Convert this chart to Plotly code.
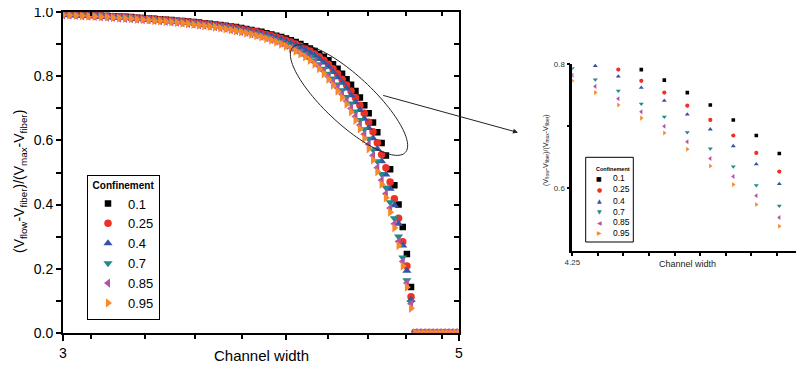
import numpy as np
import plotly.graph_objects as go

# ---------------- data ----------------
X = [3.000, 3.025, 3.050, 3.075, 3.100, 3.125, 3.150, 3.175, 3.200, 3.225,
     3.250, 3.275, 3.300, 3.325, 3.350, 3.375, 3.400, 3.425, 3.450, 3.475,
     3.500, 3.525, 3.550, 3.575, 3.600, 3.625, 3.650, 3.675, 3.700, 3.725,
     3.750, 3.775, 3.800, 3.825, 3.850, 3.875, 3.900, 3.925, 3.950, 3.975,
     4.000, 4.025, 4.050, 4.075, 4.100, 4.125, 4.150, 4.175, 4.200, 4.225,
     4.250, 4.275, 4.300, 4.325, 4.350, 4.375, 4.400, 4.425, 4.450, 4.475,
     4.500, 4.525, 4.550, 4.575, 4.600, 4.625, 4.650, 4.675, 4.700, 4.725,
     4.750, 4.775, 4.800, 4.825, 4.850, 4.875, 4.900, 4.925, 4.950, 4.975,
     5.000]

ZEROS = [0.0] * 12

conf_01 = [.996, .995, .994, .993, .992, .991, .990, .989, .988, .987,
           .986, .985, .983, .982, .981, .980, .978, .977, .976, .974,
           .973, .971, .970, .968, .966, .964, .962, .960, .958, .956,
           .954, .951, .948, .945, .942, .939, .935, .931, .927, .923,
           .918, .913, .907, .901, .894, .887, .879, .870, .861, .850,
           .838, .824, .808, .791, .774, .754, .734, .710, .685, .656,
           .626, .592, .553, .510, .460, .400, .330, .246, .143] + ZEROS

conf_025 = [.995, .994, .993, .992, .991, .990, .989, .988, .987, .986,
            .985, .983, .982, .981, .980, .978, .977, .976, .974, .973,
            .971, .970, .968, .966, .964, .962, .960, .958, .956, .954,
            .951, .948, .945, .942, .939, .935, .931, .927, .923, .918,
            .913, .907, .901, .894, .887, .879, .870, .861, .850, .838,
            .824, .808, .791, .773, .754, .733, .710, .685, .657, .627,
            .593, .556, .515, .470, .418, .357, .284, .208, .112] + ZEROS

conf_04 = [.994, .993, .992, .991, .990, .989, .988, .987, .986, .985,
           .984, .982, .981, .980, .979, .977, .976, .975, .973, .972,
           .970, .969, .967, .965, .963, .961, .959, .957, .955, .952,
           .949, .946, .943, .940, .937, .933, .929, .925, .920, .915,
           .909, .903, .897, .890, .882, .874, .865, .854, .843, .830,
           .814, .797, .780, .762, .741, .719, .695, .668, .639, .607,
           .573, .535, .494, .449, .398, .340, .272, .193, .102] + ZEROS

conf_07 = [.993, .992, .991, .990, .989, .988, .987, .986, .985, .983,
           .982, .981, .980, .978, .977, .976, .974, .973, .971, .970,
           .968, .966, .964, .962, .960, .958, .956, .954, .951, .948,
           .945, .942, .939, .935, .931, .927, .923, .918, .913, .907,
           .901, .894, .887, .879, .870, .861, .850, .838, .824, .808,
           .793, .775, .757, .736, .715, .690, .664, .635, .605, .572,
           .535, .495, .453, .407, .357, .300, .235, .164, .095] + ZEROS

conf_085 = [.992, .991, .990, .989, .988, .987, .986, .985, .984, .982,
            .981, .980, .979, .977, .976, .975, .973, .972, .970, .969,
            .967, .965, .963, .961, .959, .957, .955, .952, .950, .946,
            .943, .940, .937, .933, .929, .925, .920, .915, .910, .904,
            .897, .890, .883, .874, .865, .855, .844, .831, .816, .799,
            .782, .764, .744, .723, .700, .675, .648, .619, .588, .553,
            .515, .476, .434, .389, .340, .285, .222, .155, .090] + ZEROS

conf_095 = [.992, .991, .990, .989, .988, .987, .986, .985, .983, .982,
            .981, .980, .978, .977, .976, .974, .973, .971, .970, .968,
            .966, .964, .962, .960, .958, .956, .954, .951, .948, .945,
            .942, .939, .935, .931, .927, .923, .918, .913, .907, .901,
            .894, .887, .879, .870, .861, .850, .838, .824, .808, .791,
            .773, .754, .734, .713, .689, .663, .636, .606, .574, .539,
            .502, .463, .421, .376, .327, .272, .208, .142, .076] + ZEROS

NAMES = ["0.1", "0.25", "0.4", "0.7", "0.85", "0.95"]
SERIES = [conf_01, conf_025, conf_04, conf_07, conf_085, conf_095]

# main axis tick values / labels
X_LABELED = [3, 5]
X_LABEL_TEXT = ["3", "5"]
X_MID = [4]
X_MINOR = [3 + 1 / 9, 3 + 3 / 9, 3 + 5 / 9, 3 + 7 / 9,
           3 + 11 / 9, 3 + 13 / 9, 3 + 15 / 9, 3 + 17 / 9]
Y_MAJOR = [0.0, 0.2, 0.4, 0.6, 0.8, 1.0]
Y_MAJOR_TEXT = ["0.0", "0.2", "0.4", "0.6", "0.8", "1.0"]
Y_MINOR = [0.1, 0.3, 0.5, 0.7, 0.9]

# inset tick values / labels
IN_XLAB = [4.25, 4.5]
IN_XLAB_TEXT = ["4.25", "4.5"]
IN_XMINOR = [4.25 + k * 0.25 / 9 for k in range(1, 9)]
IN_YLAB = [0.6, 0.8]
IN_YLAB_TEXT = ["0.6", "0.8"]
IN_YMINOR = [0.7]

# ---------------- styles ----------------
COLORS = ["#000000", "#ee3124", "#3953a4", "#1f8a8a", "#b452a8", "#f7892b"]
SYMBOLS = ["square", "circle", "triangle-up", "triangle-down",
           "triangle-left", "triangle-right"]
MAIN_SIZE = [6.5, 7.5, 8, 8, 8, 8]
INSET_SIZE = [3.6, 4.2, 4.4, 4.4, 4.4, 4.4]

# the page puts the figure 8 px in from the window's top-left corner
OFF = 8
WIN_W, WIN_H = 804, 366
W, H = WIN_W - OFF, WIN_H - OFF


def px(xp):
    return (xp - OFF) / W


def py(yp):
    return 1 - (yp - OFF) / H


fig = go.Figure()

for name, ys, c, s, ms in zip(NAMES, SERIES, COLORS, SYMBOLS, MAIN_SIZE):
    fig.add_trace(go.Scatter(
        x=X, y=ys, mode="markers", name=name,
        marker=dict(symbol=s, size=ms, color=c, line=dict(width=0)),
        xaxis="x", yaxis="y", showlegend=True, cliponaxis=True))

for name, ys, c, s, ms in zip(NAMES, SERIES, COLORS, SYMBOLS, INSET_SIZE):
    fig.add_trace(go.Scatter(
        x=X, y=ys, mode="markers", name=name,
        marker=dict(symbol=s, size=ms, color=c, line=dict(width=0)),
        xaxis="x2", yaxis="y2", showlegend=False, cliponaxis=True))

# helper (empty) traces for extra tick sets (top / right inner ticks, long tick at 4)
fig.add_trace(go.Scatter(x=[], y=[], xaxis="x3", yaxis="y3",
                         showlegend=False, hoverinfo="skip"))
fig.add_trace(go.Scatter(x=[], y=[], xaxis="x4", yaxis="y",
                         showlegend=False, hoverinfo="skip"))

main_xdom = [px(63), px(459)]
main_ydom = [py(332.7), py(12.3)]
xr = [np.log10(3), np.log10(5)]

common = dict(showgrid=False, zeroline=False, automargin=False,
              ticklabeloverflow="allow")

fig.update_layout(
    width=W, height=H,
    margin=dict(l=0, r=0, t=0, b=0, autoexpand=False),
    paper_bgcolor="white", plot_bgcolor="white",
    font=dict(family="Liberation Sans, Arial, sans-serif", color="black"),
    xaxis=dict(type="log", range=xr, domain=main_xdom, anchor="y",
               showline=True, linewidth=2, linecolor="black", mirror=True,
               ticks="outside", ticklen=6, tickwidth=1.5, tickcolor="black",
               tickmode="array", tickvals=X_LABELED, ticktext=X_LABEL_TEXT,
               minor=dict(tickmode="array", tickvals=X_MINOR, ticks="outside",
                          ticklen=4, tickwidth=1.5, tickcolor="black"),
               tickfont=dict(size=14), **common),
    xaxis4=dict(type="log", range=xr, overlaying="x", side="bottom", anchor="y",
                showline=False, ticks="outside", ticklen=6, tickwidth=1.5,
                tickcolor="black", tickmode="array", tickvals=X_MID,
                showticklabels=False, **common),
    yaxis=dict(range=[0, 1], domain=main_ydom, anchor="x",
               showline=True, linewidth=2, linecolor="black", mirror=True,
               ticks="outside", ticklen=5, tickwidth=1.5, tickcolor="black",
               tickmode="array", tickvals=Y_MAJOR, ticktext=Y_MAJOR_TEXT,
               minor=dict(tickmode="array", tickvals=Y_MINOR, ticks="outside",
                          ticklen=5, tickwidth=1.5, tickcolor="black"),
               tickfont=dict(size=14), **common),
    xaxis3=dict(type="log", range=xr, overlaying="x", side="top", anchor="y",
                showline=False, ticks="inside", ticklen=6, tickwidth=1.5,
                tickcolor="black", tickmode="array", tickvals=[3, 4, 5],
                showticklabels=False,
                minor=dict(tickmode="array", tickvals=X_MINOR, ticks="inside",
                           ticklen=4, tickwidth=1.5, tickcolor="black"),
                **common),
    yaxis3=dict(range=[0, 1], overlaying="y", side="right", anchor="x",
                showline=False, ticks="inside", ticklen=5, tickwidth=1.5,
                tickcolor="black", tickmode="array", tickvals=Y_MAJOR,
                minor=dict(tickmode="array", tickvals=Y_MINOR, ticks="inside",
                           ticklen=5, tickwidth=1.5, tickcolor="black"),
                showticklabels=False, **common),
    xaxis2=dict(domain=[px(572.3), 1.0],
                range=[4.25, 4.25 + (WIN_W - 572.3) / 920], anchor="y2",
                showline=True, linewidth=2, linecolor="black", mirror=False,
                ticks="outside", ticklen=3, tickwidth=1.5, tickcolor="black",
                tickmode="array", tickvals=IN_XLAB, ticktext=IN_XLAB_TEXT,
                minor=dict(tickmode="array", tickvals=IN_XMINOR, ticks="outside",
                           ticklen=3, tickwidth=1.5, tickcolor="black"),
                tickfont=dict(size=8, color="#333"), **common),
    yaxis2=dict(domain=[py(250.5), py(64)], range=[0.5, 0.8], anchor="x2",
                showline=True, linewidth=2.5, linecolor="black", mirror=False,
                ticks="outside", ticklen=3, tickwidth=1.5, tickcolor="black",
                tickmode="array", tickvals=IN_YLAB, ticktext=IN_YLAB_TEXT,
                minor=dict(tickmode="array", tickvals=IN_YMINOR, ticks="outside",
                           ticklen=3, tickwidth=1.5, tickcolor="black"),
                tickfont=dict(size=8, color="#333"), **common),
    legend=dict(x=px(87), y=py(174.5), xanchor="left", yanchor="top",
                bgcolor="white", bordercolor="black", borderwidth=1,
                font=dict(size=13),
                title=dict(text="<b>Confinement</b>", font=dict(size=10),
                           side="top center"),
                tracegroupgap=0, itemsizing="trace"),
)

ytitle = "(V<sub>flow</sub>-V<sub>fiber</sub>)/(V<sub>max</sub>-V<sub>fiber</sub>)"

ann = [
    dict(text="Channel width", x=px(261), y=py(355), xref="paper", yref="paper",
         showarrow=False, font=dict(size=15), xanchor="center", yanchor="middle"),
    dict(text=ytitle, x=px(20), y=py(182), xref="paper", yref="paper",
         showarrow=False, textangle=-90, font=dict(size=14),
         xanchor="center", yanchor="middle"),
    dict(text="Channel width", x=px(687), y=py(264), xref="paper", yref="paper",
         showarrow=False, font=dict(size=9, color="#222"),
         xanchor="center", yanchor="middle"),
    dict(text=ytitle, x=px(546), y=py(150), xref="paper", yref="paper",
         showarrow=False, textangle=-90, font=dict(size=7, color="#222"),
         xanchor="center", yanchor="middle"),
    dict(text="", x=px(518), y=py(132.5), xref="paper", yref="paper",
         ax=381.7 - 518, ay=95 - 132.5, axref="pixel", ayref="pixel",
         showarrow=True, arrowhead=2, arrowsize=1, arrowwidth=1,
         arrowcolor="#222"),
    dict(text="<b>Confinement</b>", x=px(612.5), y=py(168.7), xref="paper",
         yref="paper", showarrow=False, font=dict(size=5.5),
         xanchor="center", yanchor="middle"),
]

# inset legend (drawn by hand: symbols as glyphs + labels)
GLYPHS = ["\u25A0", "\u25CF", "\u25B2", "\u25BC", "\u25C0", "\u25B6"]
IN_LEG_Y = [178.3, 189.3, 200.7, 211.7, 222.3, 232.7]
for g, c, n, yy in zip(GLYPHS, COLORS, NAMES, IN_LEG_Y):
    ann.append(dict(text=g, x=px(599.3), y=py(yy), xref="paper", yref="paper",
                    showarrow=False, font=dict(size=6, color=c,
                                               family="DejaVu Sans"),
                    xanchor="center", yanchor="middle"))
    ann.append(dict(text=n, x=px(610.5), y=py(yy), xref="paper", yref="paper",
                    showarrow=False, font=dict(size=8.5),
                    xanchor="left", yanchor="middle"))

fig.update_layout(annotations=ann)

# ellipse around the zoomed region (screen-space decoration)
t = np.linspace(0, 2 * np.pi, 120)
cx, cy, a, b, th = 349.0, 100.0, 77.0, 24.0, np.deg2rad(43)
ex = cx + a * np.cos(t) * np.cos(th) - b * np.sin(t) * np.sin(th)
ey = cy + a * np.cos(t) * np.sin(th) + b * np.sin(t) * np.cos(th)
path = "M " + " L ".join(f"{px(u):.5f},{py(v):.5f}" for u, v in zip(ex, ey)) + " Z"

shapes = [
    dict(type="path", path=path, xref="paper", yref="paper",
         line=dict(color="#222", width=1)),
    dict(type="rect", x0=px(585.7), x1=px(633.3), y0=py(242), y1=py(157.3),
         xref="paper", yref="paper", line=dict(color="black", width=1),
         fillcolor="white", layer="above"),
]
fig.update_layout(shapes=shapes)

fig.write_html("out.html")
